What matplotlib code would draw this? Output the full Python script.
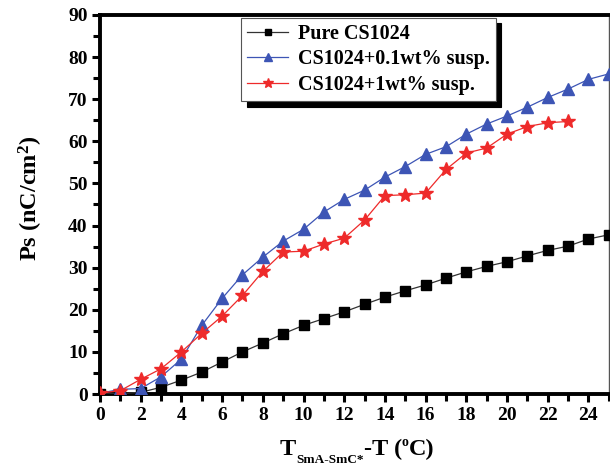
import numpy as np
import matplotlib
matplotlib.use("Agg")
import matplotlib.pyplot as plt
from matplotlib.ticker import MultipleLocator

plt.rcParams["font.family"] = ["Liberation Serif", "DejaVu Serif"]
plt.rcParams["mathtext.fontset"] = "custom"
plt.rcParams["mathtext.rm"] = "Liberation Serif"
plt.rcParams["mathtext.it"] = "Liberation Serif:italic"
plt.rcParams["mathtext.bf"] = "Liberation Serif:bold"

# temperature below the SmA-SmC* transition (degC)
temp_pure = np.arange(0, 26)
temp_01 = np.arange(0, 26)
temp_1 = np.arange(0, 24)

# spontaneous polarization (nC/cm^2)
ps_pure = [0.0, 0.1, 0.4, 1.6, 3.3, 5.2, 7.6, 10.0, 12.1, 14.3, 16.3, 17.9, 19.5,
           21.3, 23.0, 24.5, 25.9, 27.5, 29.0, 30.3, 31.4, 32.8, 34.1, 35.1, 36.8, 37.8]
ps_01 = [0.2, 1.1, 1.3, 4.1, 8.3, 16.3, 22.7, 28.3, 32.5, 36.3, 39.1, 43.2, 46.2,
         48.4, 51.5, 54.0, 56.9, 58.7, 61.7, 64.1, 66.0, 68.1, 70.4, 72.4, 74.7, 76.0]
ps_1 = [0.2, 0.8, 3.5, 6.0, 10.0, 14.4, 18.5, 23.4, 29.1, 33.7, 33.9, 35.6, 37.0,
        41.3, 47.1, 47.3, 47.7, 53.3, 57.2, 58.4, 61.7, 63.5, 64.4, 64.7]

labels = ["Pure CS1024", "CS1024+0.1wt% susp.", "CS1024+1wt% susp."]

W, H = 610, 466
fig = plt.figure(figsize=(W / 100, H / 100), dpi=100)
ax = fig.add_axes([0.164, 0.1545, 0.834, 0.8135])

ax.plot(temp_pure, ps_pure, color="#333333", lw=0.9, marker="s", ms=6.5,
        mfc="black", mec="black", label=labels[0], zorder=3)
ax.plot(temp_01, ps_01, color="#3d55b5", lw=0.9, marker="^", ms=8.5,
        mfc="#3d55b5", mec="#3d55b5", label=labels[1], zorder=4)
ax.plot(temp_1, ps_1, color="#ee2a2a", lw=0.9, marker="*", ms=10,
        mfc="#ee2a2a", mec="#ee2a2a", label=labels[2], zorder=5)

ax.set_xlim(0, 25)
ax.set_ylim(0, 90)
ax.xaxis.set_major_locator(MultipleLocator(2))
ax.xaxis.set_minor_locator(MultipleLocator(1))
ax.yaxis.set_major_locator(MultipleLocator(10))
ax.yaxis.set_minor_locator(MultipleLocator(5))
ax.tick_params(which="both", direction="out", width=2.2, top=False, right=False)
ax.tick_params(which="major", length=6, labelsize=14, pad=3)
ax.tick_params(which="minor", length=5)
for lab in ax.get_xticklabels() + ax.get_yticklabels():
    lab.set_fontweight("bold")

for side in ["left", "bottom", "top"]:
    ax.spines[side].set_linewidth(2.8)
ax.spines["right"].set_linewidth(1.0)
ax.spines["right"].set_color("#555555")

ax.set_ylabel("Ps (nC/cm$^{\\mathbf{2}}$)", fontsize=17.5, fontweight="bold")
ax.yaxis.set_label_coords(-0.108, 0.517)

leg = ax.legend(loc="upper left", bbox_to_anchor=(0.27, 1.003),
                prop={"weight": "bold", "size": 14.5}, frameon=True, fancybox=False,
                shadow={"color": "black", "alpha": 1.0, "ox": 4, "oy": -4},
                handlelength=2.0, borderpad=0.3, labelspacing=0.28,
                handletextpad=0.5, borderaxespad=0.2, markerscale=0.7)
leg.get_frame().set_edgecolor("#555555")
leg.get_frame().set_linewidth(0.8)

# x-axis title built from pieces so the subscript can be small
fig.canvas.draw()
renderer = fig.canvas.get_renderer()
pieces = [("T", 17.5, 0), ("SmA-SmC*", 9.5, -8), ("-T (", 17.5, 0),
          ("o", 10, 9), ("C)", 17.5, 0)]
base_y = H - 455
cursor = 0.0
texts = []
for s, size, dy in pieces:
    t = fig.text(cursor / W, (base_y + dy) / H, s, fontsize=size, fontweight="bold",
                 ha="left", va="baseline")
    ext = t.get_window_extent(renderer)
    texts.append(t)
    cursor += ext.width
shift = 357 - cursor / 2
for t in texts:
    x, y = t.get_position()
    t.set_position((x + shift / W, y))

fig.savefig("out.png", dpi=100)
